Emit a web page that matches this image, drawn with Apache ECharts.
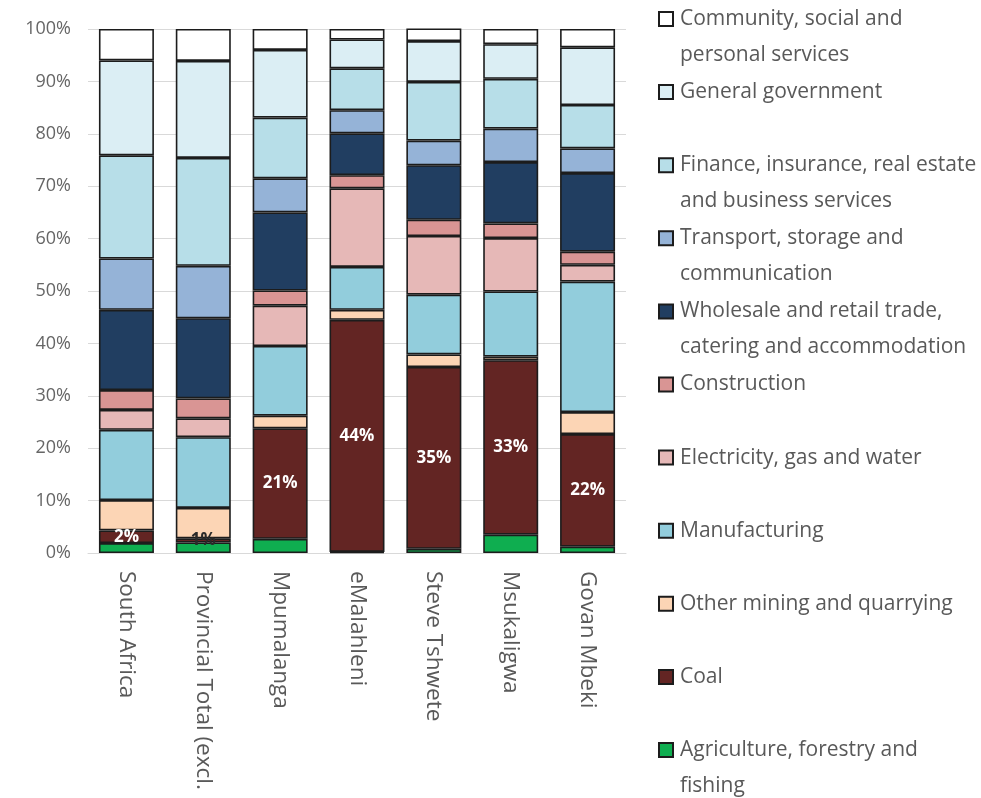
<!DOCTYPE html>
<html>
<head>
<meta charset="utf-8">
<script src="https://cdn.jsdelivr.net/npm/echarts@6/dist/echarts.min.js"></script>
<style>html,body{margin:0;padding:0;background:#fff;}#c{width:981px;height:798px;}</style>
</head>
<body>
<div id="c"></div>
<script>
// Categories (x axis)
const categories = ['South Africa', 'Provincial Total (excl.', 'Mpumalanga', 'eMalahleni', 'Steve Tshwete', 'Msukaligwa', 'Govan Mbeki'];
// Y tick labels
const yTicks = ['0%', '10%', '20%', '30%', '40%', '50%', '60%', '70%', '80%', '90%', '100%'];
// Sector shares (%), bottom of stack first
const agriculture   = [1.9, 2.0, 2.7, 0.2, 0.8, 3.5, 1.2];
const coal          = [2.4, 0.8, 21.1, 44.3, 34.7, 33.3, 21.5];
const otherMining   = [5.8, 5.8, 2.4, 1.9, 2.4, 0.7, 4.2];
const manufacturing = [13.4, 13.5, 13.3, 8.2, 11.4, 12.4, 24.9];
const electricity   = [3.8, 3.6, 7.7, 15.0, 11.2, 10.2, 3.2];
const construction  = [3.8, 3.8, 2.9, 2.5, 3.1, 2.8, 2.5];
const wholesale     = [15.3, 15.3, 14.9, 8.0, 10.4, 11.7, 15.0];
const transport     = [9.8, 10.0, 6.5, 4.4, 4.7, 6.4, 4.7];
const finance       = [19.7, 20.6, 11.6, 8.0, 11.2, 9.5, 8.3];
const generalGov    = [18.1, 18.5, 12.9, 5.5, 7.8, 6.6, 11.0];
const community     = [6.0, 6.1, 4.0, 2.0, 2.4, 2.9, 3.5];

const seriesDefs = [
  {name: 'Agriculture, forestry and fishing', data: agriculture, color: '#0fae50', lines: ['Agriculture, forestry and', 'fishing']},
  {name: 'Coal', data: coal, color: '#632523', lines: ['Coal']},
  {name: 'Other mining and quarrying', data: otherMining, color: '#fcd5b5', lines: ['Other mining and quarrying']},
  {name: 'Manufacturing', data: manufacturing, color: '#92cddc', lines: ['Manufacturing']},
  {name: 'Electricity, gas and water', data: electricity, color: '#e6b8b7', lines: ['Electricity, gas and water']},
  {name: 'Construction', data: construction, color: '#d99594', lines: ['Construction']},
  {name: 'Wholesale and retail trade, catering and accommodation', data: wholesale, color: '#213e61', lines: ['Wholesale and retail trade,', 'catering and accommodation']},
  {name: 'Transport, storage and communication', data: transport, color: '#95b3d7', lines: ['Transport, storage and', 'communication']},
  {name: 'Finance, insurance, real estate and business services', data: finance, color: '#b7dee8', lines: ['Finance, insurance, real estate', 'and business services']},
  {name: 'General government', data: generalGov, color: '#dbeef4', lines: ['General government']},
  {name: 'Community, social and personal services', data: community, color: '#ffffff', lines: ['Community, social and', 'personal services']}
];

const FONT = '"Open Sans", "Noto Sans", sans-serif';
const LH = 36;

const series = seriesDefs.map(function (d) {
  const s = {
    name: d.name,
    type: 'bar',
    stack: 'total',
    barWidth: 55,
    data: d.data.map(function (v) { return v; }),
    itemStyle: {color: d.color, borderColor: '#1c1c1c', borderWidth: 1.6},
    emphasis: {disabled: true}
  };
  if (d.name === 'Coal') {
    s.data = d.data.map(function (v, i) {
      const item = {value: v};
      if (i === 1) item.label = {color: '#2a2a2a'};
      return item;
    });
    s.label = {
      show: true, position: 'inside', color: '#ffffff', fontFamily: FONT,
      fontSize: 17, fontWeight: 'bold',
      formatter: function (p) { return Math.round(p.value) + '%'; }
    };
  }
  return s;
});

// Legend: one per item, ordered top-down from the top of the stack
const legendOrder = seriesDefs.slice().reverse();
const legends = legendOrder.map(function (d, i) {
  const c = 19 + 73.1 * i;
  const two = d.lines.length > 1;
  return {
    show: true,
    orient: 'vertical',
    left: 658,
    top: two ? c - 1.5 * LH : c - 0.5 * LH,
    padding: 0,
    icon: 'rect',
    itemWidth: 14,
    itemHeight: 14,
    itemGap: 0,
    selectedMode: false,
    data: [d.name],
    formatter: function () { return two ? ' \n' + d.lines[0] + '\n' + d.lines[1] : d.lines[0]; },
    textStyle: {fontFamily: FONT, fontSize: 21, color: '#595959', lineHeight: LH, padding: [0, 0, 0, 2]}
  };
});

const chart = echarts.init(document.getElementById('c'), null, {renderer: 'canvas'});
chart.setOption({
  animation: false,
  backgroundColor: '#ffffff',
  grid: {left: 88, right: 355, top: 29, bottom: 245, containLabel: false},
  legend: legends,
  xAxis: {
    type: 'category',
    data: categories,
    axisTick: {show: false},
    axisLine: {lineStyle: {color: '#d9d9d9'}},
    axisLabel: {rotate: -90, margin: 18, fontFamily: FONT, fontSize: 22.5, color: '#595959', interval: 0}
  },
  yAxis: {
    type: 'value',
    min: 0, max: 100, interval: 10,
    axisLine: {show: false},
    axisTick: {show: false},
    splitLine: {lineStyle: {color: '#d9d9d9', width: 1}},
    axisLabel: {
      margin: 17, fontFamily: FONT, fontSize: 18, color: '#666666',
      formatter: function (v) { return yTicks[Math.round(v / 10)]; }
    }
  },
  series: series
});
</script>
</body>
</html>
